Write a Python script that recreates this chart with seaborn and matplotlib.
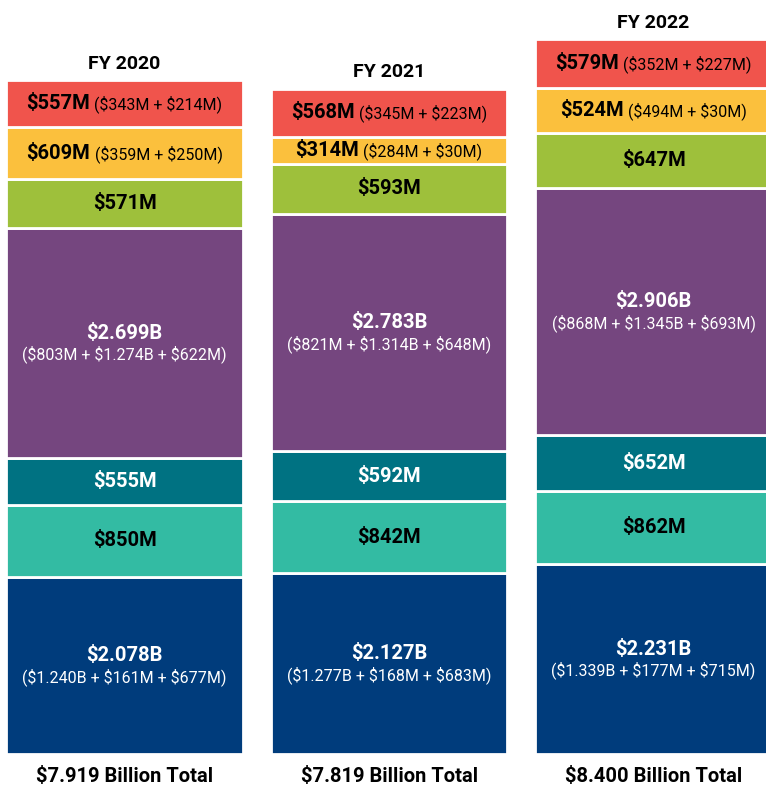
import matplotlib
matplotlib.use("Agg")
import matplotlib.pyplot as plt
from matplotlib.offsetbox import TextArea, HPacker, AnnotationBbox
import seaborn as sns
import pandas as pd

# -----------------------------------------------------
# DATA (billions), stacked from the bottom up
# -----------------------------------------------------
years = ["FY 2020", "FY 2021", "FY 2022"]
totals = ["$7.919 Billion Total", "$7.819 Billion Total", "$8.400 Billion Total"]

navy = [2.078, 2.127, 2.231]
mint = [0.850, 0.842, 0.862]
teal = [0.555, 0.592, 0.652]
purple = [2.699, 2.783, 2.906]
green = [0.571, 0.593, 0.647]
yellow = [0.609, 0.314, 0.524]
red = [0.557, 0.568, 0.579]

navy_lbl = ["$2.078B", "$2.127B", "$2.231B"]
navy_sub = ["($1.240B + $161M + $677M)", "($1.277B + $168M + $683M)", "($1.339B + $177M + $715M)"]
mint_lbl = ["$850M", "$842M", "$862M"]
teal_lbl = ["$555M", "$592M", "$652M"]
purple_lbl = ["$2.699B", "$2.783B", "$2.906B"]
purple_sub = ["($803M + $1.274B + $622M)", "($821M + $1.314B + $648M)", "($868M + $1.345B + $693M)"]
green_lbl = ["$571M", "$593M", "$647M"]
yellow_lbl = ["$609M", "$314M", "$524M"]
yellow_sub = ["($359M + $250M)", "($284M + $30M)", "($494M + $30M)"]
red_lbl = ["$557M", "$568M", "$579M"]
red_sub = ["($343M + $214M)", "($345M + $223M)", "($352M + $227M)"]

layers = [
    (navy, "#003c7c", "white", navy_lbl, navy_sub, "two"),
    (mint, "#33bba3", "black", mint_lbl, None, "one"),
    (teal, "#007282", "white", teal_lbl, None, "one"),
    (purple, "#75467f", "white", purple_lbl, purple_sub, "two"),
    (green, "#9ec03b", "black", green_lbl, None, "one"),
    (yellow, "#fbc03d", "black", yellow_lbl, yellow_sub, "inline"),
    (red, "#f0544c", "black", red_lbl, red_sub, "inline"),
]


def esc(s):
    # keep dollar signs literal (no mathtext)
    return s.replace("$", r"\$")


# -----------------------------------------------------
# STYLE
# -----------------------------------------------------
sns.set_theme(style="white")
plt.rcParams["font.family"] = ["Roboto", "DejaVu Sans"]
plt.rcParams["text.color"] = "black"

BIG = 14.5
SMALL = 11.5

fig = plt.figure(figsize=(7.66, 7.86), dpi=100)
ax = fig.add_axes([0, 0, 1, 1])

bottoms = [0.0, 0.0, 0.0]
for vals, color, tcolor, lbl, sub, kind in layers:
    df = pd.DataFrame({"year": years, "value": vals})
    sns.barplot(data=df, x="year", y="value", order=years, color=color,
                width=0.895, bottom=bottoms, edgecolor="white", linewidth=2,
                saturation=1, ax=ax)
    for i in range(3):
        yc = bottoms[i] + vals[i] / 2
        if kind == "one":
            ax.text(i, yc, esc(lbl[i]), ha="center", va="center", color=tcolor,
                    fontsize=BIG, fontweight="bold")
        elif kind == "two":
            ax.annotate(esc(lbl[i]), (i, yc), xytext=(0, 7), textcoords="offset points",
                        ha="center", va="center", color=tcolor,
                        fontsize=BIG, fontweight="bold")
            ax.annotate(esc(sub[i]), (i, yc), xytext=(0, -8), textcoords="offset points",
                        ha="center", va="center", color=tcolor, fontsize=SMALL)
        else:
            a = TextArea(esc(lbl[i]), textprops=dict(color=tcolor, fontsize=BIG,
                                                     fontweight="bold"))
            b = TextArea(esc(sub[i]), textprops=dict(color=tcolor, fontsize=SMALL))
            box = HPacker(children=[a, b], align="baseline", pad=0, sep=3)
            ab = AnnotationBbox(box, (i, yc), frameon=False, box_alignment=(0.5, 0.5),
                                pad=0)
            ax.add_artist(ab)
    bottoms = [bottoms[i] + vals[i] for i in range(3)]

# year titles and totals
for i in range(3):
    ax.annotate(years[i], (i, bottoms[i]), xytext=(0, 8), textcoords="offset points",
                ha="center", va="baseline", fontsize=14, fontweight="bold", color="black")
    ax.text(i, -0.26, esc(totals[i]), ha="center", va="center",
            fontsize=14.5, fontweight="bold", color="black")

ax.set_xlim(-0.471, 2.425)
ax.set_ylim(-0.376, 8.86)
ax.axis("off")

fig.savefig("out.png", dpi=100)
